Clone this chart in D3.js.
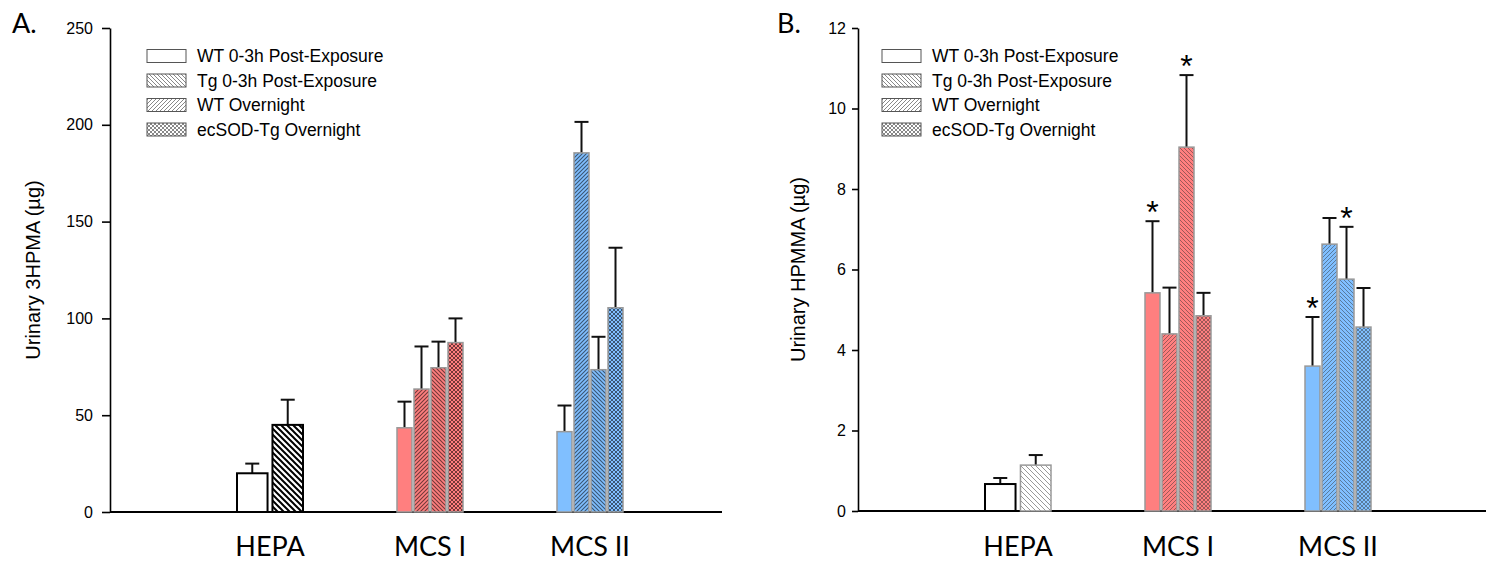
<!DOCTYPE html>
<html><head><meta charset="utf-8">
<script src="https://cdn.jsdelivr.net/npm/d3@7"></script>
<style>body{margin:0;background:#fff}svg{display:block}</style>
</head><body><svg id="c" width="1486" height="564"></svg>
<script>
// ---- data ----
const categories = ["HEPA", "MCS I", "MCS II"];
const seriesNames = ["WT 0-3h Post-Exposure", "Tg 0-3h Post-Exposure", "WT Overnight", "ecSOD-Tg Overnight"];
const groupColors = ["#ffffff", "#ff7f7f", "#80bfff"];
const barPatterns = [["plain", "back"], ["plain", "fwd", "back", "cross"], ["plain", "fwd", "back", "cross"]];
const legendPatterns = ["plain", "back", "fwd", "cross"];

const hpmaValues = [[20, 45], [43.5, 63.5, 74.5, 87.5], [41.5, 185.5, 73.5, 105.5]];
const hpmaErrors = [[5, 13], [13.5, 22, 13.5, 12.5], [13.5, 16, 17, 31]];
const hpmaTicks = [0, 50, 100, 150, 200, 250];

const hpmmaValues = [[0.67, 1.14], [5.42, 4.40, 9.04, 4.85], [3.60, 6.63, 5.76, 4.57]];
const hpmmaErrors = [[0.15, 0.25], [1.78, 1.15, 1.79, 0.57], [1.22, 0.65, 1.30, 0.97]];
const hpmmaStars = [[0, 0], [1, 0, 1, 0], [1, 0, 1, 0]];
const hpmmaTicks = [0, 2, 4, 6, 8, 10, 12];

const svg = d3.select("#c");
const defs = svg.append("defs");

function makePattern(id, bg, type, col, sw, s) {
  const p = defs.append("pattern").attr("id", id).attr("patternUnits", "userSpaceOnUse")
    .attr("width", s).attr("height", s);
  p.append("rect").attr("width", s).attr("height", s).attr("fill", bg);
  const fwd = `M-1,1 l2,-2 M0,${s} l${s},${-s} M${s-1},${s+1} l2,-2`;
  const back = `M-1,${s-1} l2,2 M0,0 l${s},${s} M${s-1},-1 l2,2`;
  const d = type === "fwd" ? fwd : type === "back" ? back : fwd + " " + back;
  p.append("path").attr("d", d).attr("stroke", col).attr("stroke-width", sw).attr("fill", "none");
  return `url(#${id})`;
}

function fillFor(panel, g, i, type) {
  if (type === "plain") return groupColors[g];
  const id = `p${panel}${g}${i}`;
  if (g === 0) {
    return panel === "A" ? makePattern(id, "#fff", type, "#000", 2, 6) : makePattern(id, "#fff", type, "#999", 1, 5);
  }
  if (panel === "A") return makePattern(id, groupColors[g], type, "rgba(0,0,0,0.55)", type === "cross" ? 1 : 1.1, 4);
  return makePattern(id, groupColors[g], type, "rgba(40,40,40,0.45)", 1, 4);
}

function panel(opts) {
  const {key, values, errors, stars, ticks, ymax, x0, xEnd, yTop, yBot, tickLen, tickPad, title, titleX, letter, letterX, legendX} = opts;
  const g = svg.append("g");
  const y = d3.scaleLinear().domain([0, ymax]).range([yBot, yTop]);
  const x = d3.scaleLinear().domain([0, 4]).range([x0, x0 + 640]);

  const yAxis = d3.axisLeft(y).tickValues(ticks).tickSize(tickLen).tickPadding(tickPad).tickSizeOuter(0);
  const ya = g.append("g").attr("transform", `translate(${x0},0)`).call(yAxis);
  ya.select(".domain").attr("stroke", "#000").attr("stroke-width", 1.6);
  ya.selectAll(".tick line").attr("stroke", "#000").attr("stroke-width", 1.6);
  ya.selectAll(".tick text").attr("font-family", "Liberation Sans, Arial, sans-serif").attr("font-size", 16).attr("fill", "#000");

  // x axis line
  g.append("line").attr("x1", x0).attr("x2", xEnd).attr("y1", y(0)).attr("y2", y(0))
    .attr("stroke", "#000").attr("stroke-width", 1.8);

  categories.forEach((cat, gi) => {
    const n = values[gi].length;
    const band = d3.scaleBand().domain(d3.range(n)).range([-33, 33])
      .paddingInner(n === 2 ? 0.139 : 0.118);
    const cx = x(gi + 1);
    values[gi].forEach((v, i) => {
      const type = barPatterns[gi][i];
      const left = cx + band(i);
      const w = band.bandwidth();
      const isHepa = gi === 0;
      let stroke = "#999", sw = 1.5;
      if (isHepa) { stroke = (key === "B" && i === 1) ? "#999" : "#000"; sw = (key === "B" && i === 1) ? 1.5 : 2; }
      const top = y(v + errors[gi][i]);
      const mid = left + w / 2;
      const eb = g.append("g").attr("stroke", "#111").attr("stroke-width", 2);
      eb.append("line").attr("x1", mid).attr("x2", mid).attr("y1", y(v)).attr("y2", top);
      eb.append("line").attr("x1", mid - 7).attr("x2", mid + 7).attr("y1", top).attr("y2", top);
      g.append("rect").attr("x", left).attr("width", w).attr("y", y(v)).attr("height", y(0) - y(v))
        .attr("fill", fillFor(key, gi, i, type)).attr("stroke", stroke).attr("stroke-width", sw);
      if (stars && stars[gi][i]) {
        g.append("text").attr("x", mid).attr("y", top + 2).attr("text-anchor", "middle")
          .attr("font-family", "Liberation Sans, Arial, sans-serif").attr("font-size", 32).attr("fill", "#000")
          .text("*");
      }
    });
    g.append("text").attr("x", cx).attr("y", 556).attr("text-anchor", "middle")
      .attr("font-family", "Lato, sans-serif").attr("font-size", 27)
      .attr("fill", "#000").text(cat);
  });

  // y title
  g.append("text").attr("transform", `translate(${titleX},${(yTop + yBot) / 2}) rotate(-90)`)
    .attr("text-anchor", "middle").attr("font-family", "Liberation Sans, Arial, sans-serif")
    .attr("font-size", 20).attr("fill", "#000").text(title);
  // panel letter
  g.append("text").attr("x", letterX).attr("y", 33).attr("font-family", "Lato, sans-serif")
    .attr("font-size", 27).attr("fill", "#000").text(letter);

  // legend
  const lg = g.append("g").attr("transform", `translate(${legendX},0)`);
  seriesNames.forEach((name, i) => {
    const cy = 56 + i * 24.5;
    lg.append("rect").attr("x", 0).attr("y", cy - 6.5).attr("width", 39).attr("height", 13)
      .attr("fill", legendPatterns[i] === "plain" ? "#fff" : makePattern(`lg${key}${i}`, "#fff", legendPatterns[i], "#888", 1, 4))
      .attr("stroke", "#555").attr("stroke-width", 1);
    lg.append("text").attr("x", 50).attr("y", cy + 6).attr("font-family", "Liberation Sans, Arial, sans-serif")
      .attr("font-size", 17.5).attr("fill", "#000").text(name);
  });
}

panel({key: "A", values: hpmaValues, errors: hpmaErrors, stars: null, ticks: hpmaTicks, ymax: 250,
  x0: 110, xEnd: 722, yTop: 28, yBot: 512, tickLen: 8, tickPad: 9,
  title: "Urinary 3HPMA (µg)", titleX: 40, letter: "A.", letterX: 12, legendX: 147});
panel({key: "B", values: hpmmaValues, errors: hpmmaErrors, stars: hpmmaStars, ticks: hpmmaTicks, ymax: 12,
  x0: 858, xEnd: 1486, yTop: 28, yBot: 511, tickLen: 6, tickPad: 6,
  title: "Urinary HPMMA (µg)", titleX: 805, letter: "B.", letterX: 777, legendX: 882});
</script></body></html>
